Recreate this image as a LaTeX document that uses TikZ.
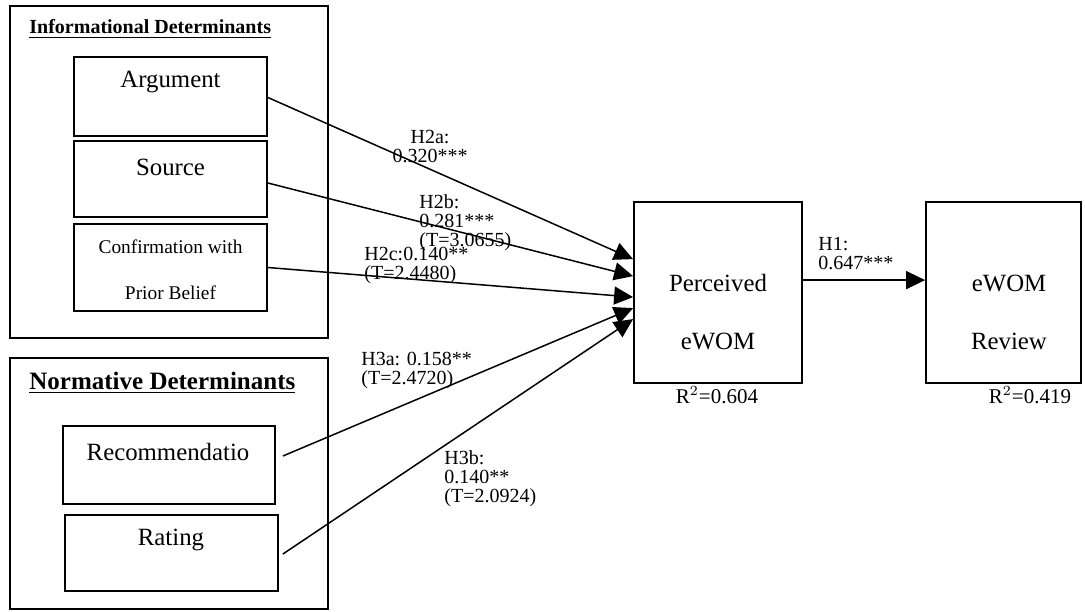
\documentclass[tikz,border=0pt]{standalone}
\usepackage{fontspec}
\setmainfont{Liberation Serif}
\usetikzlibrary{arrows.meta,calc,fit}

\begin{document}
\begin{tikzpicture}[x=0.5pt,y=-0.5pt,
        box/.style={draw,line width=0.9pt,inner sep=0pt},
        arr/.style={line width=0.75pt,-{Triangle[length=9.5pt,width=9pt]}},
        lbl/.style={font=\fontsize{10}{9.5}\selectfont,align=left,anchor=north west,inner sep=0pt},
        txt/.style={font=\fontsize{12.4}{14}\selectfont,inner sep=0pt}]
        \useasboundingbox (0,0) rectangle (1085,611);

        % 情報的決定要因
        \node[box,fit={(10,6) (328,338)}] (info) {};
        \node[anchor=west,inner sep=0pt,font=\bfseries\fontsize{10}{12}\selectfont] (infotitle) at (29,29) {\underline{Informational Determinants}};
        \node[box,fit={(74,57) (267,136)}] (arg) {};
        \node[txt] (argtext) at (170.5,82) {Argument};
        \node[box,fit={(74,141) (267,217)}] (src) {};
        \node[txt] (srctext) at (170.5,167) {Source};
        \node[box,fit={(74,224) (267,311)}] (conf) {};
        \node[txt,font=\fontsize{9.7}{12}\selectfont] (conftext) at (170.5,247) {Confirmation with};
        \node[txt,font=\fontsize{9.7}{12}\selectfont] (conftextb) at (170.5,293) {Prior Belief};

        % 規範的決定要因
        \node[box,fit={(10,358) (328,609)}] (norm) {};
        \node[anchor=west,inner sep=0pt,font=\bfseries\fontsize{12.5}{14}\selectfont] (normtitle) at (29,383) {\underline{Normative Determinants}};
        \node[box,fit={(63,426) (275,504)}] (rec) {};
        \node[txt] (rectext) at (168,452) {Recommendatio};
        \node[box,fit={(65,515) (278,591)}] (rat) {};
        \node[txt] (rattext) at (171,540) {Rating};

        % 知覚されたeWOM と eWOMレビュー
        \node[box,fit={(634,202) (802,383)}] (pe) {};
        \node[txt] (petext) at (718,283) {Perceived};
        \node[txt] (petextb) at (718,341) {eWOM};
        \node[font=\fontsize{10.5}{12}\selectfont,inner sep=0pt] (per2) at (717,395) {R$^2$=0.604};
        \node[box,fit={(926,202) (1081,383)}] (rev) {};
        \node[txt] (revtext) at (1009,283) {eWOM};
        \node[txt] (revtextb) at (1009,341) {Review};
        \node[font=\fontsize{10.5}{12}\selectfont,inner sep=0pt] (rev2) at (1030,395) {R$^2$=0.419};

        % 矢印
        \draw[arr] ($(arg.east)+(0,1)$) -- ($(pe.north west)+(0,58)$);
        \draw[arr] ($(src.east)+(0,4)$) -- ($(pe.north west)+(0,75)$);
        \draw[arr] (conf.east) -- ($(pe.north west)+(0,96)$);
        \draw[arr] ($(rec.east)+(7,-9)$) -- ($(pe.north west)+(0,107)$);
        \draw[arr] ($(rat.east)+(4,1)$) -- ($(pe.north west)+(0,118)$);
        \draw[arr] ($(pe.north east)+(0,79)$) -- ($(rev.north west)+(0,79)$);

        % 係数
        \node[lbl,align=center,anchor=north] (h2a) at (430,130) {H2a:\\0.320***};
        \node[lbl] (h2b) at (419,194) {H2b:\\0.281***\\(T=3.0655)};
        \node[lbl] (h2c) at (364,247) {H2c:0.140**\\(T=2.4480)};
        \node[lbl] (h3a) at (361,352) {H3a: 0.158**\\(T=2.4720)};
        \node[lbl] (h3b) at (444,450) {H3b:\\0.140**\\(T=2.0924)};
        \node[lbl] (h1) at (818,237) {H1:\\0.647***};
\end{tikzpicture}
\end{document}
